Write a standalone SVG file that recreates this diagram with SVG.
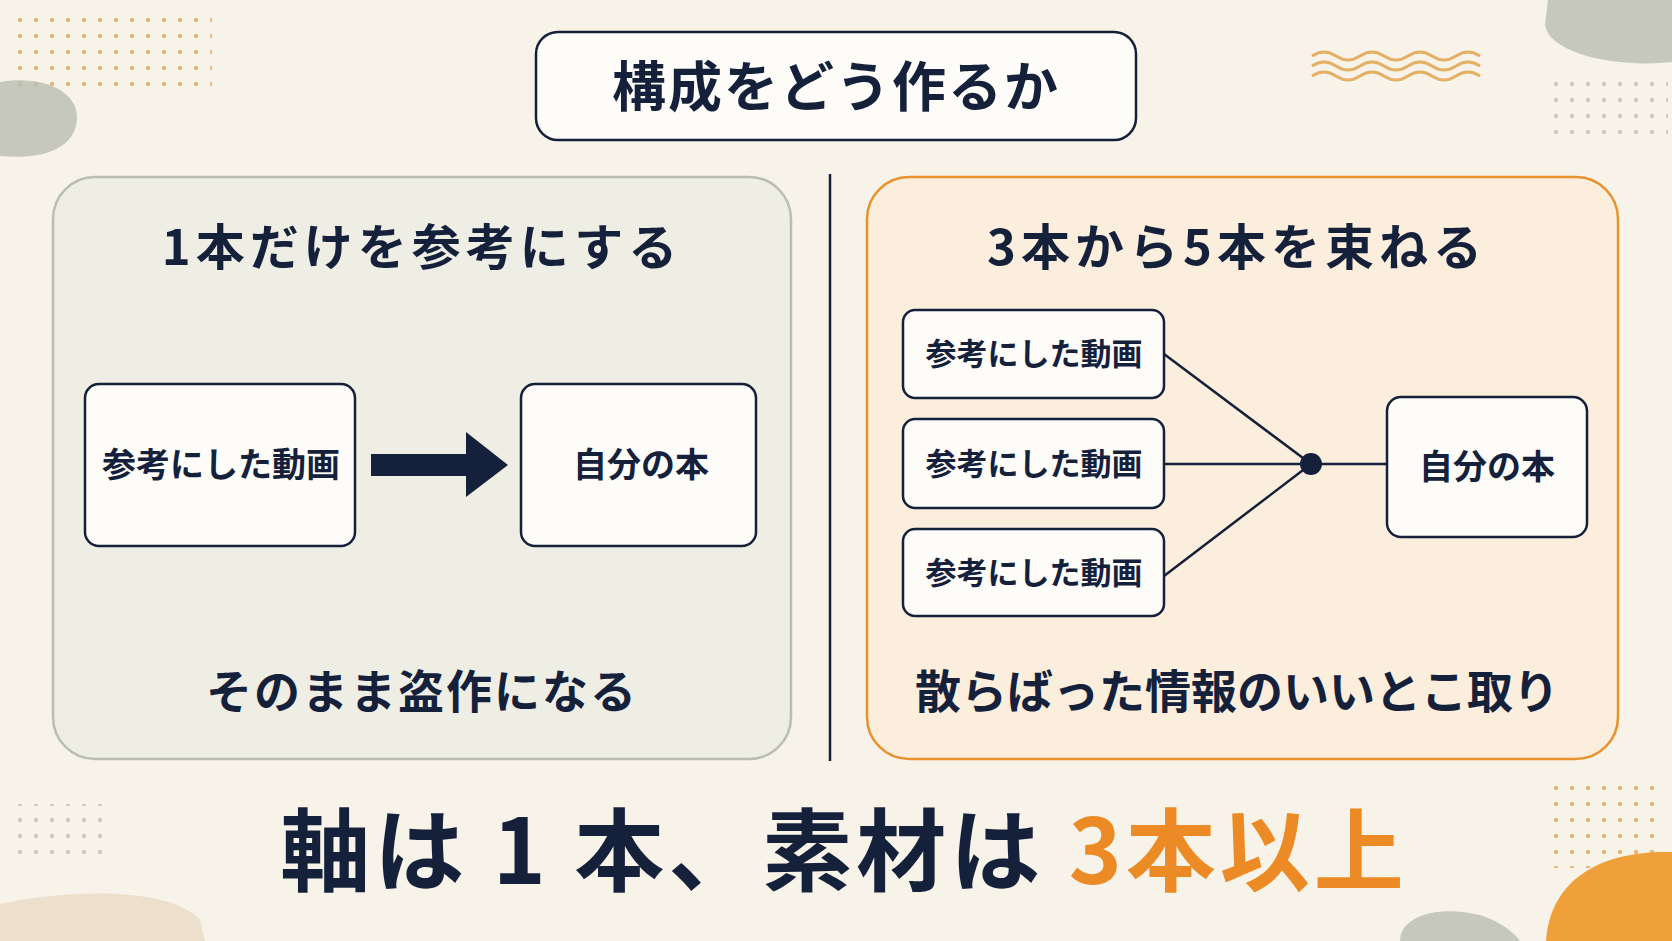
<svg xmlns="http://www.w3.org/2000/svg" width="1672" height="941" viewBox="0 0 1672 941">
<defs>
<style>
text{font-family:"Noto Sans CJK JP","Noto Sans",sans-serif;font-weight:700;fill:#15213b;text-anchor:middle}
.box{fill:#fdfcf8;stroke:#15213b;stroke-width:2.5}
.sm{font-size:31px}
.md{font-size:34px}
.hd{font-size:49px;letter-spacing:5px}
.ln{stroke:#15213b;stroke-width:2.5;fill:none}
</style>
<pattern id="dots" width="16" height="16" patternUnits="userSpaceOnUse"><circle cx="4" cy="4" r="2.2" fill="#e3b77a"/></pattern>
<pattern id="gdots" width="16" height="16" patternUnits="userSpaceOnUse"><circle cx="4" cy="4" r="2.2" fill="#c9c9c1"/></pattern>
</defs>
<rect width="1672" height="941" fill="#f7f3e8"/>
<g id="decor">
<rect x="16" y="12" width="196" height="84" fill="url(#dots)"/>
<path d="M0 82 C40 75 78 90 77 118 C76 150 40 160 0 156 Z" fill="#b9bdb0" opacity="0.8"/>
<path d="M1548 0 H1672 V62 C1620 68 1550 55 1545 25 Z" fill="#b9bdb0" opacity="0.8"/>
<path d="M1312 56 q12 -8 24 0 t24 0 t24 0 t24 0 t24 0 t24 0 t24 0 M1312 66 q12 -8 24 0 t24 0 t24 0 t24 0 t24 0 t24 0 t24 0 M1312 76 q12 -8 24 0 t24 0 t24 0 t24 0 t24 0 t24 0 t24 0" stroke="#e3b066" stroke-width="3" fill="none"/>
<rect x="1548" y="78" width="120" height="56" fill="url(#gdots)"/>
<rect x="12" y="804" width="90" height="50" fill="url(#gdots)"/>
<path d="M0 904 C60 890 170 885 200 920 L205 941 H0 Z" fill="#ece0cc"/>
<rect x="1544" y="784" width="120" height="84" fill="url(#dots)"/>
<path d="M1400 941 C1400 915 1440 905 1480 915 C1510 925 1520 941 1520 941 Z" fill="#b9bdb0" opacity="0.8"/>
<path d="M1546 941 C1550 880 1600 850 1672 852 V941 Z" fill="#f0a03a"/>
</g>
<g id="title"><rect x="536" y="32" width="600" height="108" rx="22" class="box"/><text x="836" y="107" font-size="54" style="letter-spacing:2px">構成をどう作るか</text></g>
<g id="leftPanel"><rect x="53" y="177" width="738" height="582" rx="42" fill="#efeee5" stroke="#b9bdb5" stroke-width="2.5"/>
<text x="422" y="265" class="hd">1本だけを参考にする</text>
<text x="422" y="708" font-size="46" style="letter-spacing:2px">そのまま盗作になる</text></g>
<line x1="830" y1="174" x2="830" y2="761" stroke="#15213b" stroke-width="2.5"/>
<g id="rightPanel"><rect x="867" y="177" width="751" height="582" rx="42" fill="#fbeedc" stroke="#e8922e" stroke-width="2.5"/>
<text x="1237" y="265" class="hd">3本から5本を束ねる</text>
<text x="1237" y="708" font-size="46">散らばった情報のいいとこ取り</text></g>
<g id="L1"><rect x="85" y="384" width="270" height="162" rx="14" class="box"/><text x="221" y="477" class="md">参考にした動画</text></g>
<g id="L2"><rect x="521" y="384" width="235" height="162" rx="14" class="box"/><text x="641" y="477" class="md">自分の本</text></g>
<g id="R1"><rect x="903" y="310" width="261" height="88" rx="12" class="box"/><text x="1034" y="365" class="sm">参考にした動画</text></g>
<g id="R2"><rect x="903" y="419" width="261" height="89" rx="12" class="box"/><text x="1034" y="475" class="sm">参考にした動画</text></g>
<g id="R3"><rect x="903" y="529" width="261" height="87" rx="12" class="box"/><text x="1034" y="584" class="sm">参考にした動画</text></g>
<g id="R4"><rect x="1387" y="397" width="200" height="140" rx="14" class="box"/><text x="1487" y="479" class="md">自分の本</text></g>
<g id="connectors">
<path d="M371 454 H466 V432 L508 465 L466 497 V476 H371 Z" fill="#15213b"/>
<path class="ln" d="M1164 354 L1311 464 M1164 464 H1387 M1164 576 L1311 464"/>
<circle cx="1311" cy="464" r="11" fill="#15213b"/>
</g>
<text x="844" y="884" font-size="90" style="letter-spacing:4px">軸は 1 本、素材は <tspan fill="#ec8b25">3本以上</tspan></text>
</svg>
